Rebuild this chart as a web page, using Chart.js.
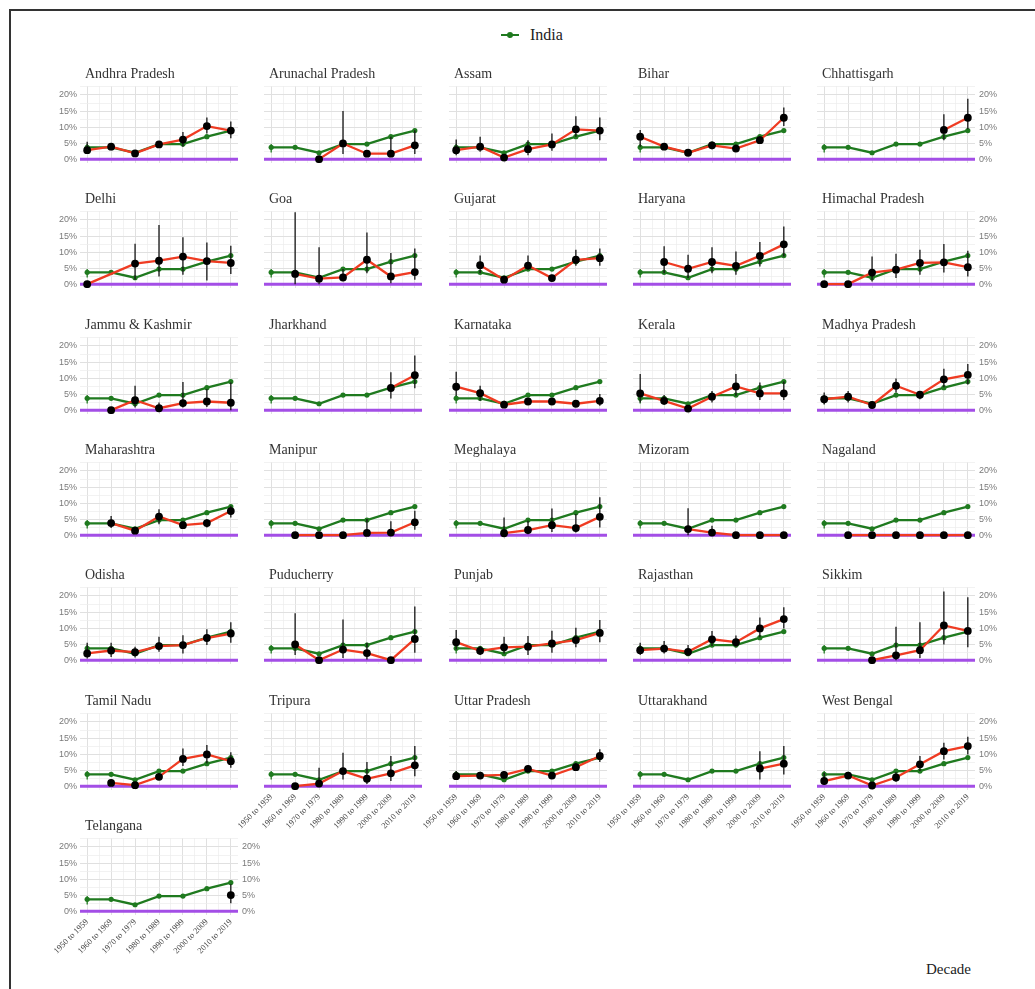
<!DOCTYPE html>
<html>
<head>
<meta charset="utf-8">
<script src="https://cdn.jsdelivr.net/npm/chart.js@4.4.1/dist/chart.umd.min.js"></script>
<style>
  html, body { margin: 0; padding: 0; background: #fff; }
  #page { position: relative; width: 1035px; height: 989px; overflow: hidden; background: #fff; }
  #frame { position: absolute; left: 9px; top: 9px; width: 1040px; height: 1000px;
           border-left: 2px solid #333; border-top: 2px solid #333; }
  #page canvas { position: absolute; }
  #legend { position: absolute; left: 500px; top: 25px; height: 20px; display: flex; align-items: center;
            font-family: "Liberation Serif", "Times New Roman", serif; font-size: 16px; color: #222; }
  #legend .key { position: relative; width: 20px; height: 20px; }
  #legend .key .ln { position: absolute; left: 1px; top: 9px; width: 18px; height: 2px; background: #1f7a1f; }
  #legend .key .dt { position: absolute; left: 7px; top: 7px; width: 6px; height: 6px; border-radius: 3px; background: #1f7a1f; }
  #legend .txt { margin-left: 10px; }
  #xtitle { position: absolute; left: 926px; top: 961px; font-family: "Liberation Serif", "Times New Roman", serif;
            font-size: 15px; color: #222; }
</style>
</head>
<body>
<div id="page">
  <div id="frame"></div>
  <div id="legend"><div class="key"><div class="ln"></div><div class="dt"></div></div><span class="txt">India</span></div>
  <div id="xtitle">Decade</div>
</div>
<script>
// ---- data -------------------------------------------------------------
const decades = ['1950 to 1959', '1960 to 1969', '1970 to 1979', '1980 to 1989',
                 '1990 to 1999', '2000 to 2009', '2010 to 2019'];
const pctTicks = [0, 5, 10, 15, 20];

const india     = [3.7, 3.7, 2.0, 4.7, 4.7, 7.0, 8.9];
const indiaLow  = [2.1, null, null, null, null, null, null];
const indiaHigh = [4.7, null, null, null, null, null, null];

const stateNames = [
  'Andhra Pradesh', 'Arunachal Pradesh', 'Assam', 'Bihar', 'Chhattisgarh',
  'Delhi', 'Goa', 'Gujarat', 'Haryana', 'Himachal Pradesh',
  'Jammu & Kashmir', 'Jharkhand', 'Karnataka', 'Kerala', 'Madhya Pradesh',
  'Maharashtra', 'Manipur', 'Meghalaya', 'Mizoram', 'Nagaland',
  'Odisha', 'Puducherry', 'Punjab', 'Rajasthan', 'Sikkim',
  'Tamil Nadu', 'Tripura', 'Uttar Pradesh', 'Uttarakhand', 'West Bengal',
  'Telangana'
];

const N = null;
const stateRates = [
  [2.8, 3.9, 1.8, 4.6, 6.1, 10.3, 8.9],
  [N, N, 0, 4.9, 1.7, 1.7, 4.3],
  [2.8, 3.9, 0.5, 3.1, 4.6, 9.3, 8.9],
  [7.0, 3.9, 2.0, 4.3, 3.3, 5.9, 12.9],
  [N, N, N, N, N, 9.1, 12.9],
  [0, N, 6.4, 7.3, 8.6, 7.2, 6.6],
  [N, 3.2, 1.7, 2.1, 7.6, 2.4, 3.75],
  [N, 5.9, 1.4, 5.8, 1.9, 7.6, 8.1],
  [N, 6.9, 4.8, 6.9, 5.7, 8.8, 12.4],
  [0, 0, 3.6, 4.5, 6.6, 6.8, 5.3],
  [N, 0, 3.1, 0.6, 2.2, 2.7, 2.3],
  [N, N, N, N, N, 6.9, 10.9],
  [7.3, 5.3, 1.7, 2.7, 2.7, 2.0, 2.9],
  [5.2, 2.9, 0.5, 4.2, 7.4, 5.2, 5.2],
  [3.4, 4.2, 1.6, 7.6, 4.8, 9.6, 11.0],
  [N, 3.75, 1.4, 5.8, 3.1, 3.75, 7.5],
  [N, 0, 0, 0, 0.7, 0.8, 4.0],
  [N, N, 0.6, 1.6, 3.1, 2.2, 5.7],
  [N, N, 1.9, 0.8, 0, 0, 0],
  [N, 0, 0, 0, 0, 0, 0],
  [2.1, 3.0, 2.5, 4.4, 4.7, 6.9, 8.3],
  [N, 4.9, 0, 3.3, 2.2, 0, 6.6],
  [5.6, 2.9, 4.0, 4.2, 5.2, 6.25, 8.5],
  [3.1, 3.6, 2.6, 6.5, 5.6, 9.9, 12.8],
  [N, N, 0, 1.5, 3.1, 10.8, 9.1],
  [N, 1.0, 0.3, 2.9, 8.5, 9.9, 7.8],
  [N, 0, 0.8, 4.7, 2.3, 4.0, 6.5],
  [3.1, 3.3, 3.5, 5.4, 3.3, 5.9, 9.4],
  [N, N, N, N, N, 5.5, 7.0],
  [1.6, 3.3, 0.2, 2.7, 6.8, 10.9, 12.5],
  [N, N, N, N, N, N, 5.0]
];

const stateLow = [
  [1.6, 2.8, 1.2, 3.6, 3.9, 8.0, 6.5],
  [N, N, 0, 1.6, 1.2, 0.7, 1.6],
  [1.2, 2.3, 0.2, 1.2, 2.6, 7.0, 5.9],
  [3.9, 3.4, 1.2, 3.1, 2.3, 4.9, 10.3],
  [N, N, N, N, N, 5.9, 9.3],
  [0, N, 1.4, 2.4, 2.9, 1.1, 3.2],
  [N, 0, 0, 0.8, 3.4, 0.3, 1.4],
  [N, 3.4, 0.5, 4.5, 1.0, 5.7, 5.7],
  [N, 3.4, 1.9, 3.4, 2.9, 5.5, 8.6],
  [0, 0, 0.8, 1.9, 2.9, 3.6, 2.4],
  [N, 0, 0.8, 0, 0.8, 1.0, 0],
  [N, N, N, N, N, 3.6, 6.8],
  [4.5, 2.9, 0.8, 1.7, 1.7, 1.2, 1.4],
  [2.4, 1.7, 0, 2.4, 4.5, 3.2, 3.2],
  [1.8, 2.4, 0.6, 5.5, 3.4, 7.1, 8.0],
  [N, 2.2, 0.5, 3.4, 2.1, 2.4, 5.5],
  [N, 0, 0, 0, 0, 0, 1.7],
  [N, N, 0, 0.3, 1.0, 0.8, 2.4],
  [N, N, 0, 0, 0, 0, 0],
  [N, 0, 0, 0, 0, 0, 0],
  [0.5, 1.0, 0.8, 2.6, 2.1, 4.7, 5.4],
  [N, 1.6, 0, 0.7, 0.2, 0, 2.3],
  [3.3, 1.6, 2.1, 1.6, 2.3, 4.0, 5.6],
  [1.6, 2.1, 1.3, 4.4, 4.0, 7.1, 9.9],
  [N, N, 0, 0, 0.7, 4.9, 4.0],
  [N, 0.3, 0, 1.9, 6.25, 7.1, 5.7],
  [N, 0, 0, 2.1, 0.7, 1.6, 3.1],
  [1.9, 2.3, 2.3, 4.4, 2.3, 4.7, 7.5],
  [N, N, N, N, N, 2.1, 3.6],
  [0.5, 2.3, 0, 1.4, 4.7, 8.3, 9.9],
  [N, N, N, N, N, N, 2.5]
];

const stateHigh = [
  [5.4, 4.9, 2.8, 5.4, 8.5, 13.0, 11.7],
  [N, N, 0, 15.0, 2.2, 7.0, 9.0],
  [6.1, 7.0, 1.0, 5.9, 8.0, 13.4, 13.0],
  [9.1, 4.4, 2.8, 5.4, 4.6, 7.1, 16.1],
  [N, N, N, N, N, 14.0, 18.8],
  [0, N, 12.6, 18.4, 14.6, 13.0, 12.0],
  [N, 22.4, 11.5, 4.7, 16.1, 9.7, 11.1],
  [N, 8.9, 2.4, 8.9, 2.9, 10.7, 11.1],
  [N, 11.8, 9.2, 11.5, 10.2, 13.1, 18.0],
  [0, 0, 8.6, 9.5, 10.7, 12.5, 10.4],
  [N, 0, 7.6, 2.4, 8.8, 6.6, 8.6],
  [N, N, N, N, N, 11.8, 17.0],
  [12.0, 7.6, 2.9, 3.6, 3.7, 2.8, 5.0],
  [11.3, 4.7, 1.5, 6.0, 11.3, 8.6, 8.9],
  [5.5, 6.0, 2.4, 9.9, 6.0, 12.9, 14.4],
  [N, 6.0, 2.4, 8.1, 4.3, 5.0, 9.2],
  [N, 0, 0, 0, 5.0, 4.3, 7.6],
  [N, N, 5.5, 4.5, 8.3, 6.6, 11.8],
  [N, N, 8.4, 2.9, 0, 0, 0],
  [N, 0, 0, 0, 0, 0, 0],
  [5.4, 5.4, 4.2, 7.3, 7.8, 9.6, 11.8],
  [N, 14.6, 0, 12.7, 5.4, 0, 16.7],
  [9.4, 4.4, 7.3, 7.5, 9.2, 10.1, 12.5],
  [5.4, 6.0, 4.7, 9.1, 7.7, 13.3, 16.5],
  [N, N, 0, 10.4, 11.8, 21.4, 19.6],
  [N, 1.8, 0.8, 4.0, 11.7, 12.8, 10.6],
  [N, 0, 5.7, 10.4, 7.5, 9.4, 12.5],
  [4.7, 4.4, 4.7, 6.5, 4.4, 7.3, 11.5],
  [N, N, N, N, N, 10.9, 12.5],
  [4.2, 4.4, 0.8, 4.4, 9.4, 13.5, 15.4],
  [N, N, N, N, N, N, 8.4]
];

// ---- look & layout ----------------------------------------------------
const GREEN = '#1f7a1f';
const RED = '#ef3b22';
const PURPLE = '#a34ee6';
const GRID_MAJOR = '#e0e0e0';
const GRID_MINOR = '#ededed';

const COLS = 5;
const PLOT_W = 158, PLOT_H = 77;
const X_MIN = -0.3, X_MAX = 6.3;
const Y_MIN = -1.2, Y_MAX = 22.8;
const PAD_L = 60, PAD_R = 45, PAD_T = 32, PAD_B = 52;
const LEFT_W = 34, RIGHT_W = 30, BOTTOM_H = 48;

const colLeft = c => Math.round(80 + c * 184.3);
const rowTop = r => Math.round(86 + r * 125.3);

// grid positions: every half decade on x, every 2.5 % on y
const xGrid = [];
for (let i = 0; i <= (decades.length - 1) * 2; i++) xGrid.push(i / 2);
const yGrid = [];
for (let i = 0; i <= 9; i++) yGrid.push(i * 2.5);

// vertical whiskers, drawn under the dataset they belong to
const whiskers = {
  id: 'whiskers',
  beforeDatasetDraw(chart, args) {
    const ds = chart.data.datasets[args.index];
    if (!ds.errLow) return;
    const {ctx, scales} = chart;
    ctx.save();
    ctx.strokeStyle = ds.errColor;
    ctx.lineWidth = 1.3;
    ds.errLow.forEach((lo, i) => {
      const hi = ds.errHigh[i];
      if (lo == null || hi == null || hi <= lo) return;
      const x = scales.x.getPixelForValue(i);
      ctx.beginPath();
      ctx.moveTo(x, scales.y.getPixelForValue(lo));
      ctx.lineTo(x, scales.y.getPixelForValue(hi));
      ctx.stroke();
    });
    ctx.restore();
  }
};

// facet strip title, left aligned over the plot area
const panelTitle = {
  id: 'panelTitle',
  afterDraw(chart, args, opts) {
    const {ctx, chartArea} = chart;
    ctx.save();
    ctx.font = '14px "Liberation Serif", "Times New Roman", serif';
    ctx.fillStyle = '#333';
    ctx.textAlign = 'left';
    ctx.textBaseline = 'alphabetic';
    ctx.fillText(opts.text, chartArea.left + 5, chartArea.top - 8);
    ctx.restore();
  }
};

function yScale(position, showLabels, drawGrid) {
  return {
    type: 'linear',
    position,
    min: Y_MIN,
    max: Y_MAX,
    afterBuildTicks: s => { s.ticks = yGrid.map(v => ({value: v})); },
    afterFit: s => { s.width = showLabels ? (position === 'left' ? LEFT_W : RIGHT_W) : 0; },
    grid: {
      display: drawGrid,
      drawTicks: false,
      color: c => (c.tick && c.tick.value % 5 === 0) ? GRID_MAJOR : GRID_MINOR,
      lineWidth: c => (c.tick && c.tick.value % 5 === 0) ? 1 : 0.7
    },
    border: {display: false},
    ticks: {
      display: showLabels,
      autoSkip: false,
      padding: position === 'left' ? 3 : 4,
      color: '#7a7a7a',
      font: {family: '"Liberation Sans", Arial, sans-serif', size: 9},
      callback: v => pctTicks.includes(v) ? v + '%' : ''
    }
  };
}

const page = document.getElementById('page');

stateNames.forEach((name, idx) => {
  const r = Math.floor(idx / COLS), c = idx % COLS;
  const showLeft = c === 0;
  const showRight = c === COLS - 1 || idx === stateNames.length - 1;
  const showBottom = idx + COLS >= stateNames.length;

  const canvas = document.createElement('canvas');
  const w = PAD_L + PLOT_W + PAD_R, h = PAD_T + PLOT_H + PAD_B;
  canvas.width = w; canvas.height = h;
  canvas.style.width = w + 'px'; canvas.style.height = h + 'px';
  canvas.style.left = (colLeft(c) - PAD_L) + 'px';
  canvas.style.top = (rowTop(r) - PAD_T) + 'px';
  page.appendChild(canvas);

  const scales = {
    x: {
      type: 'linear',
      min: X_MIN,
      max: X_MAX,
      afterBuildTicks: s => { s.ticks = xGrid.map(v => ({value: v})); },
      afterFit: s => { s.height = showBottom ? BOTTOM_H : 0; },
      grid: {
        drawTicks: false,
        color: g => (g.tick && Number.isInteger(g.tick.value)) ? GRID_MAJOR : GRID_MINOR,
        lineWidth: g => (g.tick && Number.isInteger(g.tick.value)) ? 1 : 0.7
      },
      border: {display: false},
      ticks: {
        display: showBottom,
        autoSkip: false,
        minRotation: 45,
        maxRotation: 45,
        padding: 2,
        color: '#444',
        font: {family: '"Liberation Serif", "Times New Roman", serif', size: 8.5},
        callback: v => Number.isInteger(v) ? decades[v] : ''
      }
    },
    y: yScale('left', showLeft, true)
  };
  if (showRight) scales.y2 = yScale('right', true, false);

  new Chart(canvas, {
    type: 'line',
    data: {
      datasets: [
        {
          label: 'zero',
          data: [{x: X_MIN, y: 0}, {x: X_MAX, y: 0}],
          borderColor: PURPLE,
          borderWidth: 3,
          pointRadius: 0,
          order: 4
        },
        {
          label: 'India',
          data: india.map((v, i) => ({x: i, y: v})),
          borderColor: GREEN,
          backgroundColor: GREEN,
          borderWidth: 2.3,
          pointRadius: 2.6,
          pointBorderWidth: 0,
          pointBackgroundColor: GREEN,
          errLow: indiaLow,
          errHigh: indiaHigh,
          errColor: GREEN,
          order: 3
        },
        {
          label: name,
          data: stateRates[idx].map((v, i) => ({x: i, y: v})),
          borderColor: RED,
          backgroundColor: '#000',
          borderWidth: 2.3,
          pointRadius: 3.9,
          pointBorderWidth: 0,
          pointBackgroundColor: '#000',
          spanGaps: true,
          errLow: stateLow[idx],
          errHigh: stateHigh[idx],
          errColor: '#151515',
          order: 2
        }
      ]
    },
    options: {
      responsive: false,
      animation: false,
      devicePixelRatio: 1,
      events: [],
      layout: {
        padding: {
          left: PAD_L - (showLeft ? LEFT_W : 0),
          right: PAD_R - (showRight ? RIGHT_W : 0),
          top: PAD_T,
          bottom: PAD_B - (showBottom ? BOTTOM_H : 0)
        }
      },
      scales,
      plugins: {
        legend: {display: false},
        tooltip: {enabled: false},
        panelTitle: {text: name}
      }
    },
    plugins: [whiskers, panelTitle]
  });
});
</script>
</body>
</html>
